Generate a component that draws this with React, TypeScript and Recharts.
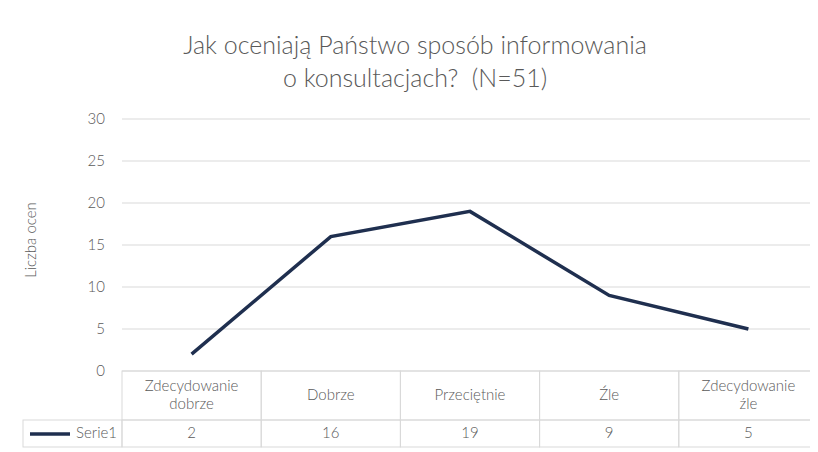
import React from "react";
import { CartesianGrid, Line, LineChart, XAxis, YAxis } from "recharts";

const categories = ["Zdecydowanie dobrze", "Dobrze", "Przeciętnie", "Źle", "Zdecydowanie źle"];
const serie1 = [2, 16, 19, 9, 5];
const yTicks = [0, 5, 10, 15, 20, 25, 30];
const seriesName = "Serie1";

const data = categories.map((name, i) => ({ name, value: serie1[i] }));

const TEXT = "#595959";
const GRID = "#d9d9d9";
const LINE = "#1f2f4f";
const FONT = "Lato, 'Open Sans', sans-serif";

function TableTick(props: any) {
  const { x, y, payload, index, visibleTicksCount, width } = props;
  const count = visibleTicksCount || categories.length;
  const w = (width || 696) / count;
  const left = x - w / 2;
  const words = String(payload.value).split(" ");
  const lines = words.length > 1 ? words : [payload.value];
  const rowTop = y;
  const rowH = 49;
  const valH = 27;
  return (
    <g>
      <rect x={left} y={rowTop} width={w} height={rowH} fill="none" stroke={GRID} strokeWidth={1} />
      <rect x={left} y={rowTop + rowH} width={w} height={valH} fill="none" stroke={GRID} strokeWidth={1} />
      <text textAnchor="middle" fill={TEXT} fontSize={15} fontWeight={300} fontFamily={FONT}>
        {lines.map((l: string, i: number) => (
          <tspan key={i} x={x} y={rowTop + 24 + (i - (lines.length - 1) / 2) * 18 + 5}>
            {l}
          </tspan>
        ))}
      </text>
      <text x={x} y={rowTop + rowH + 18} textAnchor="middle" fill={TEXT} fontSize={15} fontWeight={300} fontFamily={FONT}>
        {serie1[index]}
      </text>
      {index === 0 && (
        <g>
          <rect x={23} y={rowTop + rowH} width={left - 23} height={valH} fill="none" stroke={GRID} strokeWidth={1} />
          <line x1={30} x2={70} y1={rowTop + rowH + 14} y2={rowTop + rowH + 14} stroke={LINE} strokeWidth={3.5} />
          <text x={left - 5} y={rowTop + rowH + 18} textAnchor="end" fill={TEXT} fontSize={15} fontWeight={300} fontFamily={FONT}>
            {seriesName}
          </text>
        </g>
      )}
    </g>
  );
}

export default function App() {
  return (
    <div style={{ position: "relative", width: 818, height: 452, margin: "-8px 0 0 -8px", background: "#fff", fontFamily: FONT }}>
      <div
        style={{
          position: "absolute",
          top: 28,
          left: 0,
          width: 818,
          textAlign: "center",
          color: TEXT,
          fontSize: 25,
          fontWeight: 300,
          lineHeight: "33px",
          paddingLeft: 6,
        }}
      >
        Jak oceniają Państwo sposób informowania
        <br />o konsultacjach?&nbsp; (N=51)
      </div>
      <div
        style={{
          position: "absolute",
          left: 30,
          top: 240,
          transform: "translate(-50%, -50%) rotate(-90deg)",
          color: TEXT,
          fontSize: 15,
          fontWeight: 300,
          whiteSpace: "nowrap",
        }}
      >
        Liczba ocen
      </div>
      <LineChart width={818} height={452} data={data} margin={{ top: 119, right: 0, left: 82, bottom: 4 }}>
        <CartesianGrid stroke={GRID} vertical={false} />
        <XAxis
          dataKey="name"
          scale="band"
          interval={0}
          height={77}
          axisLine={false}
          tickLine={false}
          tickSize={0}
          tickMargin={0}
          tick={<TableTick />}
        />
        <YAxis
          domain={[0, 30]}
          ticks={yTicks}
          width={40}
          axisLine={false}
          tickLine={false}
          tickMargin={11}
          tick={{ fill: TEXT, fontSize: 15, fontWeight: 300, fontFamily: FONT }}
        />
        <Line type="linear" dataKey="value" stroke={LINE} strokeWidth={3.5} dot={false} isAnimationActive={false} />
      </LineChart>
    </div>
  );
}
